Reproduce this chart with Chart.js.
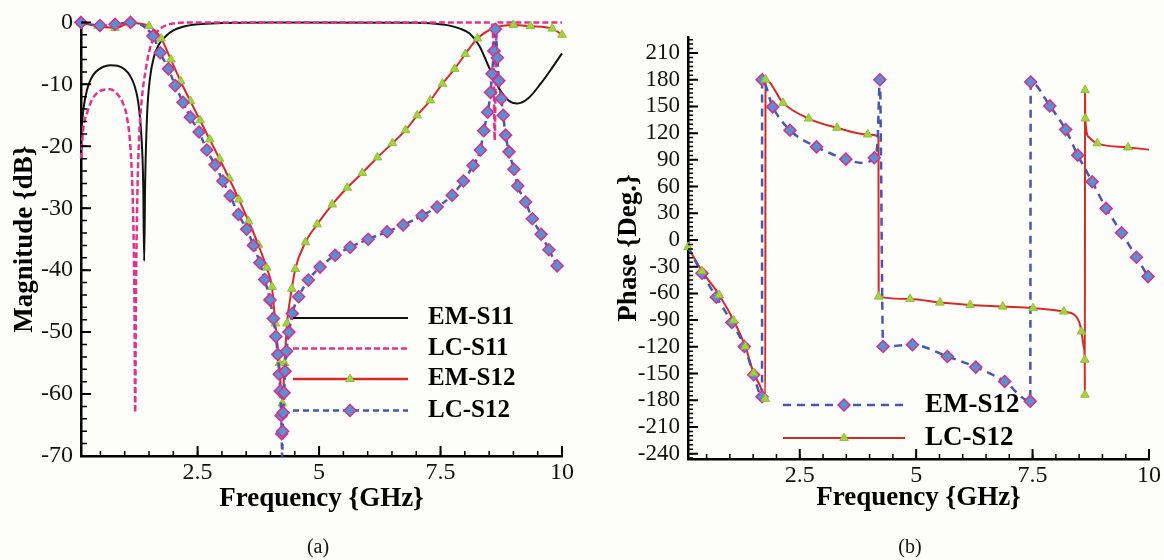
<!DOCTYPE html>
<html>
<head>
<meta charset="utf-8">
<title>S-parameters: magnitude and phase</title>
<script src="https://cdn.jsdelivr.net/npm/chart.js@4.4.1/dist/chart.umd.min.js"></script>
<style>
  html, body { margin: 0; padding: 0; background: #fdfdfa; }
  #page { position: relative; width: 1164px; height: 560px; overflow: hidden; }
  canvas { position: absolute; top: 0; }
  #magChart { left: 0; }
  #phaseChart { left: 582px; }
  .cap { position: absolute; top: 535px; width: 60px; line-height: 24px; text-align: center;
         font: 20px "Liberation Serif", "Times New Roman", serif; color: #111; }
</style>
</head>
<body>
<div id="page">
  <canvas id="magChart" width="582" height="560"></canvas>
  <canvas id="phaseChart" width="582" height="560"></canvas>
  <div class="cap" style="left:288px">(a)</div>
  <div class="cap" style="left:880px">(b)</div>
</div>
<script>
// tick labels
var freqTicks = [2.5, 5, 7.5, 10];
var magTicks = [0, -10, -20, -30, -40, -50, -60, -70];
var phaseTicks = [210, 180, 150, 120, 90, 60, 30, 0, -30, -60, -90, -120, -150, -180, -210, -240];

// (a) magnitude in dB
var emS11Freq = [0.1, 0.15, 0.22, 0.3, 0.4, 0.55, 0.7, 0.85, 1.0, 1.1, 1.2, 1.28, 1.34, 1.38, 1.4, 1.42, 1.46, 1.52,
                 1.6, 1.7, 1.85, 2.0, 2.2, 2.5, 3.0, 4.0, 7.0, 7.3, 7.6, 7.9, 8.1, 8.3, 8.5, 8.7, 8.9, 9.08, 9.3,
                 9.56, 9.8, 10];
var emS11Mag = [-18, -14, -11, -9.2, -8, -7.2, -6.9, -7.0, -7.6, -8.5, -10.2, -13, -18, -26, -38.5, -26, -15, -9,
                -5.6, -3.6, -2.2, -1.3, -0.7, -0.3, -0.1, 0, -0.05, -0.15, -0.4, -1.0, -1.8, -3.8, -7.3, -10.6,
                -12.6, -13.1, -12.3, -9.9, -7.3, -5];

var lcS11Freq = [0.1, 0.15, 0.23, 0.32, 0.42, 0.55, 0.7, 0.85, 0.95, 1.05, 1.12, 1.17, 1.2, 1.215, 1.23, 1.26,
                 1.3, 1.35, 1.42, 1.52, 1.63, 1.75, 1.9, 2.1, 2.5, 8.55, 8.59, 8.615, 8.64, 8.68, 10];
var lcS11Mag = [-22, -17, -14.5, -12.6, -11.5, -10.9, -10.8, -11.6, -12.8, -15.5, -20.5, -30, -45, -63, -45, -28,
                -18, -12.5, -8.2, -4.2, -2.0, -0.9, -0.35, -0.1, 0, 0, -5, -19, -5, 0, 0];

var emS12Freq = [0.1, 0.45, 0.8, 1.12, 1.5, 1.75, 1.95, 2.15, 2.35, 2.55, 2.75, 2.95, 3.15, 3.35, 3.55, 3.75,
                 3.92, 4.03, 4.1, 4.18, 4.245, 4.29, 4.34, 4.44, 4.51, 4.72, 4.96, 5.27, 5.58, 5.89, 6.2, 6.51,
                 6.78, 7.02, 7.29, 7.54, 7.79, 8.01, 8.26, 8.6, 9.0, 9.35, 9.8, 10];
var emS12Mag = [-0.1, -0.6, -0.9, -0.1, -0.6, -2.6, -6.0, -9.5, -12.7, -15.8, -18.9, -22.0, -25.2, -28.6, -32.1,
                -35.9, -39.6, -42.7, -48.6, -55.0, -61.5, -55.0, -48.6, -43.0, -39.8, -35.5, -32.6, -29.4, -26.7,
                -24.3, -21.8, -19.5, -17.4, -15.0, -12.6, -9.9, -7.5, -5.1, -2.6, -0.9, -0.4, -0.6, -1.0, -2.0];

var lcS12Freq = [0.1, 0.49, 0.8, 1.12, 1.58, 1.73, 1.9, 2.04, 2.2, 2.35, 2.53, 2.69, 2.86, 3.02, 3.17, 3.34, 3.51,
                 3.65, 3.78, 3.88, 3.99, 4.06, 4.11, 4.15, 4.18, 4.2, 4.22, 4.23, 4.24, 4.25, 4.26, 4.28, 4.3,
                 4.33, 4.38, 4.45, 4.58, 4.78, 5.02, 5.33, 5.64, 6.01, 6.4, 6.73, 7.12, 7.43, 7.74, 7.97, 8.17,
                 8.32, 8.39, 8.47, 8.53, 8.56, 8.6, 8.63, 8.67, 8.7, 8.75, 8.79, 8.84, 8.91, 9.01, 9.09, 9.25,
                 9.39, 9.57, 9.73, 9.9];
var lcS12Mag = [0, -0.5, -0.3, 0, -2.2, -4.9, -7.5, -10.2, -12.9, -15.3, -17.7, -20.6, -23.0, -25.6, -28.0, -31.0,
                -33.4, -36.0, -38.8, -41.5, -44.8, -47.8, -50.7, -53.6, -56.8, -59.5, -63.5, -66.4, -70, -66.0,
                -63.0, -59.8, -56.3, -53.1, -50.0, -47.0, -44.3, -41.6, -39.5, -37.6, -36.3, -35.0, -33.8, -32.7,
                -31.2, -29.8, -27.9, -25.6, -23.1, -20.6, -17.5, -14.5, -11.3, -8.3, -4.6, -1.1, -5.7, -9.4,
                -12.3, -15.0, -18.2, -20.9, -23.7, -26.4, -29.0, -31.7, -34.2, -36.7, -39.3];

// (b) phase in degrees
var emPhFreq = [0.1, 0.4, 0.71, 1.04, 1.31, 1.51, 1.69, 1.692, 1.92, 2.29, 2.86, 3.49, 3.85, 4.1, 4.17, 4.22,
                4.29, 4.92, 5.67, 6.28, 6.9, 7.45, 7.46, 7.87, 8.21, 8.47, 8.78, 9.08, 9.41, 9.73, 9.98, 10];
var emPhDeg = [-8, -37.4, -64.3, -92.7, -119.6, -151.4, -176, 180, 149.5, 123.3, 104.6, 90.8, 86.5, 92.3, 110, 180,
               -119.6, -117.7, -130.8, -142.8, -158.9, -181, 177.5, 150.6, 124, 95.3, 65.4, 35.5, 8.2, -19.4,
               -41.1, -43];
var emPhMarkFreq = [0.4, 0.71, 1.04, 1.31, 1.51, 1.69, 1.692, 1.92, 2.29, 2.86, 3.49, 4.1, 4.22, 4.29, 4.92,
                    5.67, 6.28, 6.9, 7.45, 7.46, 7.87, 8.21, 8.47, 8.78, 9.08, 9.41, 9.73, 9.98];
var emPhMarkDeg = [-37.4, -64.3, -92.7, -119.6, -151.4, -176, 180, 149.5, 123.3, 104.6, 90.8, 92.3, 180, -119.6,
                   -117.7, -130.8, -142.8, -158.9, -181, 177.5, 150.6, 124, 95.3, 65.4, 35.5, 8.2, -19.4, -41.1];

var lcPhFreq = [0.1, 0.4, 0.77, 1.08, 1.33, 1.51, 1.64, 1.76, 1.765, 2.14, 2.69, 3.3, 3.96, 4.19, 4.195, 4.87,
                5.51, 6.16, 6.86, 7.51, 8.17, 8.4, 8.5, 8.55, 8.6, 8.62, 8.623, 8.626, 8.632, 8.7, 8.89, 9.55, 10];
var lcPhDeg = [-8, -35, -61.7, -90.4, -119.6, -149.5, -163, -178.3, 180.2, 154, 136.4, 126, 118.5, 116, -63.6,
               -66.2, -70.3, -72.9, -74.8, -76.6, -80.4, -84, -92, -102.8, -120, -134.6, -173.8, 168.2, 136.4,
               116, 108.5, 104, 101.5];
var lcPhMarkFreq = [0.1, 0.4, 0.77, 1.08, 1.33, 1.51, 1.76, 1.765, 2.14, 2.69, 3.3, 3.96, 4.195, 4.87, 5.51,
                    6.16, 6.86, 7.51, 8.17, 8.55, 8.62, 8.623, 8.626, 8.632, 8.89, 9.55];
var lcPhMarkDeg = [-8, -35, -61.7, -90.4, -119.6, -149.5, -178.3, 180.2, 154, 136.4, 126, 118.5, -63.6, -66.2,
                   -70.3, -72.9, -74.8, -76.6, -80.4, -102.8, -134.6, -173.8, 168.2, 136.4, 108.5, 104];

var SERIF = '"Liberation Serif", "Times New Roman", serif';
var BLACK = '#111111', PINK = '#e2338c', RED = '#d42a2a', BLUE = '#4a55b2';
var LIME = '#a6d046', LIME_EDGE = '#8fbf32', STEEL = '#5b90d0', MAGENTA = '#d3308e';

function pts(xs, ys) {
  return xs.map(function (x, i) { return { x: x, y: ys[i] }; });
}

function drawMarker(ctx, style, x, y, r) {
  ctx.save();
  ctx.beginPath();
  if (style === 'triangle') {
    ctx.moveTo(x, y - r);
    ctx.lineTo(x + r * Math.sin(Math.PI * 2 / 3), y + r / 2);
    ctx.lineTo(x - r * Math.sin(Math.PI * 2 / 3), y + r / 2);
    ctx.fillStyle = LIME; ctx.strokeStyle = LIME_EDGE; ctx.lineWidth = 1;
  } else {
    ctx.moveTo(x - r, y); ctx.lineTo(x, y - r); ctx.lineTo(x + r, y); ctx.lineTo(x, y + r);
    ctx.fillStyle = STEEL; ctx.strokeStyle = MAGENTA; ctx.lineWidth = 1.5;
  }
  ctx.closePath();
  ctx.fill();
  ctx.stroke();
  ctx.restore();
}

// tick marks pointing into the plot, major and minor
var innerTicks = {
  id: 'innerTicks',
  afterDatasetsDraw: function (chart, args, opts) {
    var ctx = chart.ctx, area = chart.chartArea;
    ctx.save();
    ctx.strokeStyle = '#000';
    ['x', 'y'].forEach(function (id) {
      var scale = chart.scales[id], o = opts[id];
      var minor = [];
      for (var k = 0; ; k++) {
        var v = o.minorFrom + k * o.minorStep;
        if (v > scale.max + 1e-9) break;
        if (v >= scale.min - 1e-9) minor.push(v);
      }
      [[minor, o.minorLen, 1.5], [o.major, o.majorLen, 2]].forEach(function (set) {
        ctx.lineWidth = set[2];
        ctx.beginPath();
        set[0].forEach(function (v) {
          var p = scale.getPixelForValue(v);
          if (id === 'x') { ctx.moveTo(p, area.bottom); ctx.lineTo(p, area.bottom - set[1]); }
          else { ctx.moveTo(area.left, p); ctx.lineTo(area.left + set[1], p); }
        });
        ctx.stroke();
      });
    });
    ctx.restore();
  }
};

// legend drawn inside the plot: line sample, optional marker, bold label
var insetLegend = {
  id: 'insetLegend',
  afterDraw: function (chart, args, opts) {
    var ctx = chart.ctx;
    ctx.save();
    opts.items.forEach(function (it, i) {
      var y = opts.rows[i];
      ctx.strokeStyle = it.color;
      ctx.lineWidth = it.width;
      ctx.setLineDash(it.dash || []);
      ctx.beginPath();
      ctx.moveTo(opts.x0, y);
      ctx.lineTo(opts.x1, y);
      ctx.stroke();
      ctx.setLineDash([]);
      if (it.marker) drawMarker(ctx, it.marker, opts.markX, y, it.marker === 'triangle' ? 5 : 6);
      ctx.fillStyle = '#000';
      ctx.font = 'bold ' + opts.fontSize + 'px ' + SERIF;
      ctx.textAlign = 'left';
      ctx.textBaseline = 'middle';
      ctx.fillText(it.text, opts.textX, y);
    });
    ctx.restore();
  }
};

function valueScale(min, max, tickValues, size, fontSize, pad, title, titlePad, horizontal) {
  return {
    type: 'linear',
    min: min,
    max: max,
    afterBuildTicks: function (s) { s.ticks = tickValues.map(function (v) { return { value: v }; }); },
    afterFit: function (s) { if (horizontal) s.height = size; else s.width = size; },
    grid: { display: false, drawTicks: false },
    border: { display: true, color: '#000', width: 2.5 },
    ticks: {
      color: '#111', padding: pad, maxRotation: 0, autoSkip: false,
      font: { family: SERIF, size: fontSize },
      callback: function (v) { return String(v); }
    },
    title: {
      display: true, text: title, color: '#000', padding: titlePad,
      font: { family: SERIF, size: 27, weight: 'bold' }
    }
  };
}

function baseOptions(padding) {
  return {
    responsive: false,
    animation: false,
    devicePixelRatio: 1,
    layout: { padding: padding },
    plugins: { legend: { display: false }, tooltip: { enabled: false } },
    elements: { line: { cubicInterpolationMode: 'monotone' } }
  };
}

var diamond = {
  pointStyle: 'rectRot', pointBackgroundColor: STEEL, pointBorderColor: MAGENTA, pointBorderWidth: 1.5
};
var triangle = {
  pointStyle: 'triangle', pointBackgroundColor: LIME, pointBorderColor: LIME_EDGE, pointBorderWidth: 1,
  pointRadius: 5
};

// ---------- (a) magnitude ----------
var magOpts = baseOptions({ left: 0, top: 18, right: 20, bottom: 0 });
magOpts.scales = {
  x: valueScale(0.1, 10, freqTicks, 104, 24, 2, 'Frequency {GHz}', { top: 0, bottom: 45 }, true),
  y: valueScale(-70, 0, magTicks, 81, 24, 8, 'Magnitude {dB}', { top: 9, bottom: 0 }, false)
};
magOpts.plugins.innerTicks = {
  x: { major: freqTicks, minorFrom: 0.5, minorStep: 0.5, majorLen: 10, minorLen: 5 },
  y: { major: magTicks, minorFrom: -70, minorStep: 2, majorLen: 10, minorLen: 6 }
};
magOpts.plugins.insetLegend = {
  x0: 293, x1: 408, markX: 350, textX: 428, rows: [318, 348.5, 379, 410.5], fontSize: 25,
  items: [
    { text: 'EM-S11', color: BLACK, width: 2 },
    { text: 'LC-S11', color: PINK, width: 2.5, dash: [6, 3] },
    { text: 'EM-S12', color: RED, width: 2.5, marker: 'triangle' },
    { text: 'LC-S12', color: BLUE, width: 2.5, dash: [6, 4], marker: 'rectRot' }
  ]
};

new Chart(document.getElementById('magChart'), {
  type: 'line',
  data: {
    datasets: [
      Object.assign({
        label: 'LC-S12', data: pts(lcS12Freq, lcS12Mag), clip: false,
        borderColor: BLUE, borderWidth: 2.5, borderDash: [6, 4],
        pointRadius: function (c) { return c.raw && c.raw.y <= -70 ? 0 : 6; }
      }, diamond),
      Object.assign({
        label: 'EM-S12', data: pts(emS12Freq, emS12Mag), clip: false,
        borderColor: RED, borderWidth: 2
      }, triangle),
      {
        label: 'LC-S11', data: pts(lcS11Freq, lcS11Mag), clip: false,
        borderColor: PINK, borderWidth: 2.5, borderDash: [6, 3], pointRadius: 0
      },
      {
        label: 'EM-S11', data: pts(emS11Freq, emS11Mag), clip: false,
        borderColor: BLACK, borderWidth: 2, pointRadius: 0
      }
    ]
  },
  options: magOpts,
  plugins: [innerTicks, insetLegend]
});

// ---------- (b) phase ----------
var phOpts = baseOptions({ left: 0, top: 37, right: 15, bottom: 0 });
phOpts.scales = {
  x: valueScale(0.1, 10, freqTicks, 101, 24, 2, 'Frequency {GHz}', { top: 0, bottom: 46 }, true),
  y: valueScale(-246, 228, phaseTicks, 106, 23, 8, 'Phase {Deg.}', { top: 31, bottom: 0 }, false)
};
phOpts.plugins.innerTicks = {
  x: { major: freqTicks, minorFrom: 0.5, minorStep: 0.5, majorLen: 10, minorLen: 5 },
  y: { major: phaseTicks, minorFrom: -245, minorStep: 5, majorLen: 10, minorLen: 5 }
};
phOpts.plugins.insetLegend = {
  x0: 201, x1: 323, markX: 262, textX: 343, rows: [405, 438], fontSize: 27,
  items: [
    { text: 'EM-S12', color: BLUE, width: 2.5, dash: [8, 6], marker: 'rectRot' },
    { text: 'LC-S12', color: RED, width: 2, marker: 'triangle' }
  ]
};

new Chart(document.getElementById('phaseChart'), {
  type: 'line',
  data: {
    datasets: [
      Object.assign({
        label: 'LC-S12 markers', data: pts(lcPhMarkFreq, lcPhMarkDeg), clip: false, showLine: false
      }, triangle),
      Object.assign({
        label: 'EM-S12 markers', data: pts(emPhMarkFreq, emPhMarkDeg), clip: false, showLine: false,
        pointRadius: 6
      }, diamond),
      {
        label: 'EM-S12', data: pts(emPhFreq, emPhDeg), clip: false,
        borderColor: BLUE, borderWidth: 2.5, borderDash: [8, 6], pointRadius: 0
      },
      {
        label: 'LC-S12', data: pts(lcPhFreq, lcPhDeg), clip: false,
        borderColor: RED, borderWidth: 2, pointRadius: 0
      }
    ]
  },
  options: phOpts,
  plugins: [innerTicks, insetLegend]
});
</script>
</body>
</html>
